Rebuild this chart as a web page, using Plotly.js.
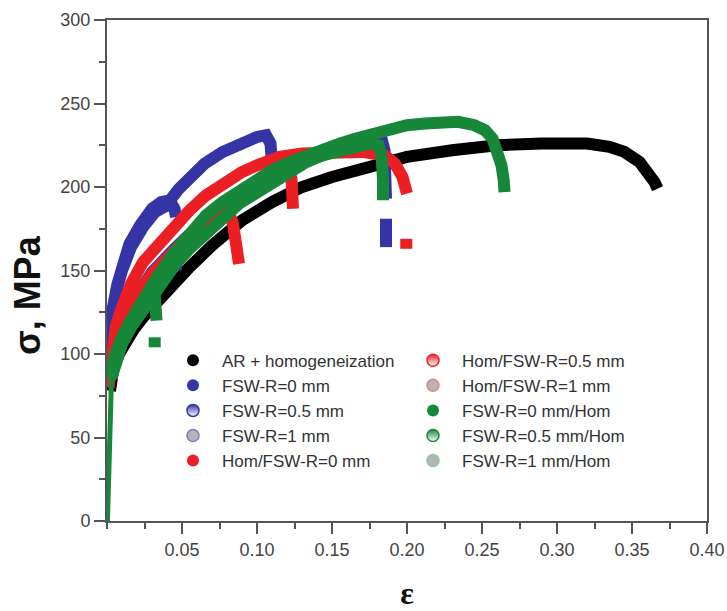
<!DOCTYPE html>
<html>
<head>
<meta charset="utf-8">
<script src="https://cdn.plot.ly/plotly-3.0.1.min.js"></script>
<style>html,body{margin:0;padding:0;background:#fff;}#chart{width:727px;height:611px;}</style>
</head>
<body>
<div id="chart"></div>
<script>
// ---- data (strain ε, stress σ in MPa) ----
const seriesNames = [
  "AR + homogeneization", "FSW-R=0 mm", "FSW-R=0.5 mm", "FSW-R=1 mm", "Hom/FSW-R=0 mm",
  "Hom/FSW-R=0.5 mm", "Hom/FSW-R=1 mm", "FSW-R=0 mm/Hom", "FSW-R=0.5 mm/Hom", "FSW-R=1 mm/Hom"
];

// shared elastic part (thin)
const elasticX = [0.0003, 0.0008, 0.0013, 0.0018, 0.0024, 0.003];
const elasticY = [0, 20, 40, 60, 75, 86];

const arX = [0.002, 0.004, 0.008, 0.012, 0.018, 0.025, 0.033, 0.044, 0.055, 0.07, 0.09, 0.11, 0.13, 0.15, 0.17, 0.2, 0.23, 0.26, 0.29, 0.32, 0.335, 0.345, 0.355, 0.361, 0.365, 0.367];
const arY = [78, 90, 100, 107, 115, 123, 131, 142, 152, 165, 180, 191, 200, 206, 211, 218, 222, 225, 226, 226, 224, 221, 215, 209, 203, 199];

const fsw0X = [0.002, 0.006, 0.012, 0.02, 0.03, 0.045, 0.06, 0.08, 0.1, 0.12, 0.14, 0.16, 0.175, 0.183, 0.185, 0.186, null, 0.186, 0.186];
const fsw0Y = [85, 108, 124, 136, 149, 163, 176, 190, 201, 210, 218, 224, 228, 229, 222, 193, null, 181, 164];

const fsw05X = [0.001, 0.003, 0.006, 0.01, 0.016, 0.024, 0.032, 0.038, 0.043, 0.045, 0.046, null, 0.046, 0.046];
const fsw05Y = [82, 118, 137, 150, 164, 176, 185, 188, 190, 187, 182, null, 157, 150];

const fsw1X = [0.001, 0.002, 0.004, 0.007, 0.01, 0.015, 0.022, 0.03, 0.036, 0.042, 0.048, 0.055, 0.065, 0.077, 0.09, 0.1, 0.106, 0.109, 0.11, 0.111];
const fsw1Y = [80, 108, 128, 142, 153, 166, 177, 187, 191, 192, 199, 206, 214, 221, 227, 230, 231, 226, 214, 202];

const hom0X = [0.002, 0.005, 0.01, 0.02, 0.03, 0.045, 0.06, 0.075, 0.081, 0.084, 0.086, 0.088];
const hom0Y = [85, 100, 113, 130, 143, 158, 171, 181, 185, 178, 166, 154];

const hom05X = [0.002, 0.005, 0.01, 0.02, 0.03, 0.045, 0.06, 0.08, 0.1, 0.115, 0.121, 0.123, 0.124, 0.124];
const hom05Y = [85, 103, 118, 135, 148, 163, 176, 191, 203, 209, 210, 205, 196, 187];

const hom1X = [0.001, 0.003, 0.006, 0.01, 0.016, 0.024, 0.033, 0.045, 0.055, 0.066, 0.077, 0.09, 0.1, 0.115, 0.13, 0.15, 0.17, 0.185, 0.192, 0.197, 0.2, null, 0.1995, 0.1995];
const hom1Y = [80, 100, 117, 128, 142, 155, 164, 177, 186, 195, 202, 209, 213, 218, 220, 221, 221, 219, 214, 206, 196, null, 169, 163];

const fsw0HomX = [0.002, 0.005, 0.01, 0.016, 0.023, 0.029, 0.032, 0.033, null, 0.0318, 0.0318];
const fsw0HomY = [85, 99, 110, 119, 128, 134, 133, 120, null, 110, 104];

const fsw05HomX = [0.003, 0.006, 0.01, 0.015, 0.022, 0.032, 0.044, 0.055, 0.066, 0.077, 0.088, 0.1, 0.11, 0.122, 0.133, 0.145, 0.155, 0.166, 0.177, 0.19, 0.2, 0.212, 0.223, 0.234, 0.245, 0.252, 0.257, 0.2605, 0.263, 0.2645, 0.265];
const fsw05HomY = [86, 100, 110, 119, 130, 144, 160, 172, 183, 191, 198, 204, 210, 215, 219, 223, 226, 229, 232, 235, 237, 238, 239, 239, 237, 234, 229, 222, 213, 204, 197];

const fsw1HomX = [0.003, 0.006, 0.01, 0.016, 0.024, 0.034, 0.045, 0.055, 0.066, 0.077, 0.088, 0.1, 0.111, 0.122, 0.133, 0.144, 0.155, 0.166, 0.175, 0.181, 0.183, 0.184, 0.184];
const fsw1HomY = [86, 98, 106, 116, 127, 140, 153, 163, 173, 181, 190, 197, 204, 209, 215, 219, 222, 225, 226, 225, 219, 205, 192];

const xTickVals = [0.05, 0.10, 0.15, 0.20, 0.25, 0.30, 0.35, 0.40];
const xTickText = ["0.05", "0.10", "0.15", "0.20", "0.25", "0.30", "0.35", "0.40"];
const yTickVals = [0, 50, 100, 150, 200, 250, 300];
const yTickText = ["0", "50", "100", "150", "200", "250", "300"];
const xTitle = "ε";
const yTitle = "σ, MPa";

// ---- styles ----
const BLACK = "#000000", BLUE = "#3434a6", RED = "#ec1f24", GREEN = "#17873a", GRAY = "#b5b5b5";
const BAND = 12;

function band(x, y, color, name) {
  return {x: x, y: y, type: "scatter", mode: "lines", name: name, showlegend: false,
          hoverinfo: "skip", line: {color: color, width: BAND}};
}
function legendItem(name, legend, marker) {
  return {x: [null], y: [null], type: "scatter", mode: "markers", name: name,
          legend: legend, showlegend: true, marker: Object.assign({size: 12}, marker)};
}

const traces = [
  band(arX, arY, BLACK, seriesNames[0]),
  band(fsw0X, fsw0Y, BLUE, seriesNames[1]),
  band(fsw05X, fsw05Y, BLUE, seriesNames[2]),
  band(fsw1X, fsw1Y, BLUE, seriesNames[3]),
  band(hom0X, hom0Y, RED, seriesNames[4]),
  band(hom05X, hom05Y, RED, seriesNames[5]),
  band(hom1X, hom1Y, RED, seriesNames[6]),
  band(fsw0HomX, fsw0HomY, GREEN, seriesNames[7]),
  band(fsw1HomX, fsw1HomY, GREEN, seriesNames[9]),
  band(fsw05HomX, fsw05HomY, GREEN, seriesNames[8]),
  {x: elasticX, y: elasticY, type: "scatter", mode: "lines", showlegend: false, hoverinfo: "skip",
   line: {color: GREEN, width: 5}},
  // legend symbols
  legendItem(seriesNames[0], "legend", {color: BLACK}),
  legendItem(seriesNames[1], "legend", {color: BLUE}),
  legendItem(seriesNames[2], "legend", {color: BLUE, line: {color: BLUE, width: 1.5}, gradient: {type: "vertical", color: "#ffffff"}}),
  legendItem(seriesNames[3], "legend", {color: GRAY, line: {color: "#7a7ac8", width: 1.5}}),
  legendItem(seriesNames[4], "legend", {color: RED}),
  legendItem(seriesNames[5], "legend2", {color: RED, line: {color: RED, width: 1.5}, gradient: {type: "vertical", color: "#ffffff"}}),
  legendItem(seriesNames[6], "legend2", {color: GRAY, line: {color: "#f08080", width: 1.5}}),
  legendItem(seriesNames[7], "legend2", {color: GREEN}),
  legendItem(seriesNames[8], "legend2", {color: GREEN, line: {color: GREEN, width: 1.5}, gradient: {type: "vertical", color: "#ffffff"}}),
  legendItem(seriesNames[9], "legend2", {color: GRAY, line: {color: "#8cc79a", width: 1.5}})
];

const tickFont = {family: "Liberation Sans, Arial, sans-serif", size: 18, color: "#444444"};
const legendFont = {family: "Liberation Sans, Arial, sans-serif", size: 17, color: "#333333"};

const layout = {
  width: 727, height: 611,
  margin: {l: 107, r: 20, t: 20, b: 90},
  paper_bgcolor: "#ffffff", plot_bgcolor: "#ffffff",
  showlegend: true,
  xaxis: {
    range: [0, 0.40], showgrid: false, zeroline: false,
    showline: true, linecolor: "#555555", linewidth: 2, mirror: true,
    tickmode: "array", tickvals: xTickVals, ticktext: xTickText,
    ticks: "outside", ticklen: 11, tickwidth: 2, tickcolor: "#555555",
    minor: {tickmode: "linear", tick0: 0, dtick: 0.025, ticks: "outside", ticklen: 6, tickwidth: 2, tickcolor: "#555555"},
    tickfont: tickFont,
    title: {text: xTitle, font: {family: "Liberation Serif, serif", size: 32, color: "#111111", weight: "bold"}, standoff: 32}
  },
  yaxis: {
    range: [0, 300], showgrid: false, zeroline: false,
    showline: true, linecolor: "#555555", linewidth: 2, mirror: true,
    tickmode: "array", tickvals: yTickVals, ticktext: yTickText,
    ticks: "outside", ticklen: 11, tickwidth: 2, tickcolor: "#555555",
    minor: {tickmode: "linear", tick0: 0, dtick: 25, ticks: "outside", ticklen: 6, tickwidth: 2, tickcolor: "#555555"},
    tickfont: tickFont
  },
  annotations: [{
    text: yTitle, textangle: -90, showarrow: false,
    xref: "paper", yref: "paper", x: (27 - 107) / 600, y: (521 - 295) / 501,
    xanchor: "center", yanchor: "middle",
    font: {family: "Liberation Sans, Arial, sans-serif", size: 36, color: "#111111", weight: "bold"}
  }],
  legend: {
    x: 0.095, y: 0.356, xanchor: "left", yanchor: "top", orientation: "v",
    bgcolor: "rgba(0,0,0,0)", borderwidth: 0, font: legendFont, itemwidth: 48, tracegroupgap: 0
  },
  legend2: {
    x: 0.495, y: 0.356, xanchor: "left", yanchor: "top", orientation: "v",
    bgcolor: "rgba(0,0,0,0)", borderwidth: 0, font: legendFont, itemwidth: 48, tracegroupgap: 0
  }
};

Plotly.newPlot("chart", traces, layout, {displayModeBar: false, staticPlot: true});
</script>
</body>
</html>
